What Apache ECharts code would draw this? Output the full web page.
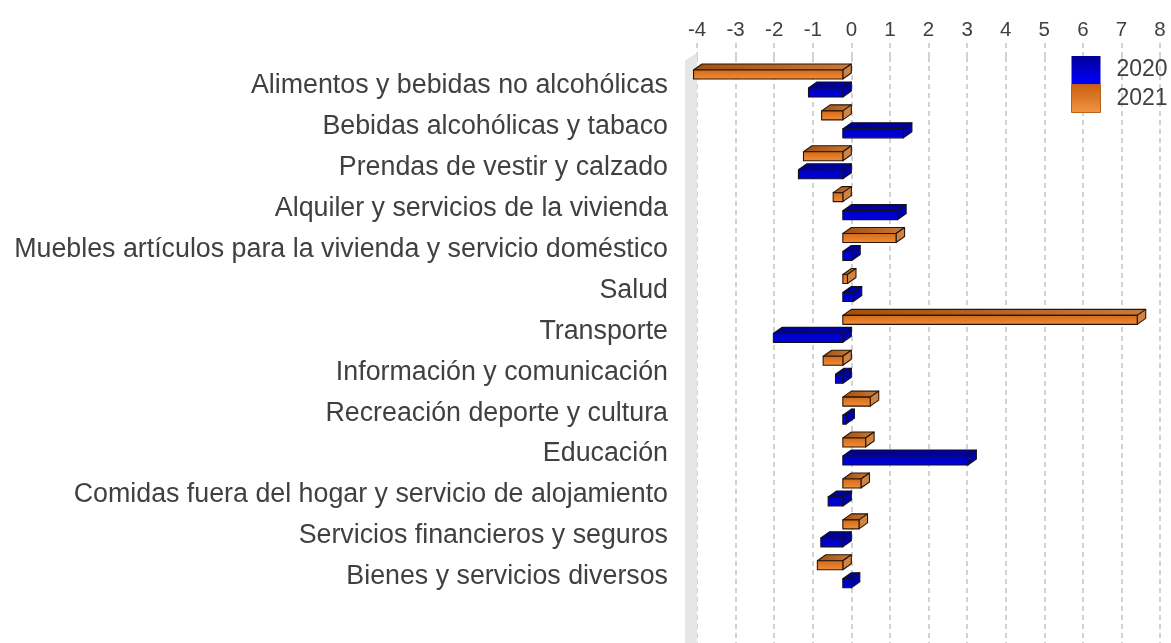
<!DOCTYPE html>
<html>
<head>
<meta charset="utf-8">
<script src="https://cdn.jsdelivr.net/npm/echarts@6/dist/echarts.min.js"></script>
<style>
  html, body { margin: 0; padding: 0; background: #ffffff; }
  #chart { width: 1171px; height: 643px; }
</style>
</head>
<body>
<div id="chart"></div>
<script>
// Variación por división de gasto (puntos porcentuales), 2020 y 2021
const categories = [
  'Alimentos y bebidas no alcohólicas',
  'Bebidas alcohólicas y tabaco',
  'Prendas de vestir y calzado',
  'Alquiler y servicios de la vivienda',
  'Muebles artículos para la vivienda y servicio doméstico',
  'Salud',
  'Transporte',
  'Información y comunicación',
  'Recreación deporte y cultura',
  'Educación',
  'Comidas fuera del hogar y servicio de alojamiento',
  'Servicios financieros y seguros',
  'Bienes y servicios diversos'
];
const values2021 = [-3.87, -0.55, -1.02, -0.25, 1.38, 0.12, 7.63, -0.51, 0.71, 0.59, 0.47, 0.42, -0.66];
const values2020 = [-0.89, 1.57, -1.15, 1.42, 0.23, 0.27, -1.80, -0.19, 0.08, 3.24, -0.38, -0.57, 0.22];
const xMin = -4, xMax = 8, xStep = 1;

const FONT = 'Liberation Sans, Arial, sans-serif';
const TEXT = '#404040';
const GRID_COLOR = '#c4c4c4';

// depth of the pseudo-3D extrusion (px)
const DX = 8.5, DY = 6;

const palette = {
  '2020': {
    front: { type: 'linear', x: 0, y: 0, x2: 0, y2: 1, colorStops: [{ offset: 0, color: '#0000c2' }, { offset: 1, color: '#0000de' }] },
    top:   { type: 'linear', x: 0, y: 0, x2: 1, y2: 0, colorStops: [{ offset: 0, color: '#00008e' }, { offset: 1, color: '#0000a8' }] },
    side: '#0000b0',
    stroke: '#101020',
    legend: { type: 'linear', x: 0, y: 0, x2: 0, y2: 1, colorStops: [{ offset: 0, color: '#000096' }, { offset: 1, color: '#0000ff' }] },
    legendBorder: '#0000a0'
  },
  '2021': {
    front: { type: 'linear', x: 0, y: 0, x2: 0, y2: 1, colorStops: [{ offset: 0, color: '#d16a18' }, { offset: 1, color: '#f28d38' }] },
    top:   { type: 'linear', x: 0, y: 0, x2: 1, y2: 0, colorStops: [{ offset: 0, color: '#a0500e' }, { offset: 1, color: '#c87a3c' }] },
    side: '#cf8444',
    stroke: '#2a1608',
    legend: { type: 'linear', x: 0, y: 0, x2: 0, y2: 1, colorStops: [{ offset: 0, color: '#c95e10' }, { offset: 1, color: '#f29545' }] },
    legendBorder: '#b8621e'
  }
};

// 2021 sits in the upper half of each category band, 2020 in the lower half
function barRenderer(seriesName, topFrac) {
  const pal = palette[seriesName];
  return function (params, api) {
    const v = api.value(0), idx = api.value(1);
    const band = api.size([0, 1])[1];
    const pZero = api.coord([0, idx]);
    const pVal = api.coord([v, idx]);
    const h = band * 0.22;
    const yt = pZero[1] + band * topFrac;
    const xl = Math.min(pZero[0], pVal[0]);
    const xr = Math.max(pZero[0], pVal[0]);
    const w = xr - xl;
    const lineStyle = { stroke: pal.stroke, lineWidth: 1.1, lineJoin: 'round' };
    return {
      type: 'group',
      children: [
        {
          type: 'polygon',
          shape: { points: [[xl - DX, yt + DY], [xl, yt], [xr, yt], [xr - DX, yt + DY]] },
          style: Object.assign({ fill: pal.top }, lineStyle)
        },
        {
          type: 'polygon',
          shape: { points: [[xr - DX, yt + DY], [xr, yt], [xr, yt + h], [xr - DX, yt + h + DY]] },
          style: Object.assign({ fill: pal.side }, lineStyle)
        },
        {
          type: 'rect',
          shape: { x: xl - DX, y: yt + DY, width: w, height: h },
          style: Object.assign({ fill: pal.front }, lineStyle)
        }
      ]
    };
  };
}

// left side wall of the 3D plot box
function wallRenderer(params, api) {
  const cs = params.coordSys;
  const xb = api.coord([xMin, 0])[0];
  const bottom = cs.y + cs.height + 20;
  return {
    type: 'polygon',
    silent: true,
    shape: { points: [[xb - 12, cs.y + 3.7], [xb, cs.y - 4.3], [xb, bottom], [xb - 12, bottom]] },
    style: { fill: '#e6e6e6' }
  };
}

const chart = echarts.init(document.getElementById('chart'), null, { renderer: 'canvas' });

const option = {
  animation: false,
  backgroundColor: '#ffffff',
  textStyle: { fontFamily: FONT },
  grid: { left: 697, right: 11, top: 57, height: 613.5, containLabel: false, outerBoundsMode: 'none' },
  legend: {
    orient: 'vertical',
    left: 1071,
    top: 56,
    itemWidth: 29,
    itemHeight: 28,
    itemGap: 0,
    icon: 'rect',
    padding: 0,
    selectedMode: false,
    textStyle: { fontFamily: FONT, fontSize: 23, color: TEXT, padding: [2, 0, 0, 11] },
    data: [
      { name: '2020', itemStyle: { color: palette['2020'].legend, borderColor: palette['2020'].legendBorder, borderWidth: 0 } },
      { name: '2021', itemStyle: { color: palette['2021'].legend, borderColor: palette['2021'].legendBorder, borderWidth: 1 } }
    ]
  },
  xAxis: {
    type: 'value',
    position: 'top',
    min: xMin,
    max: xMax,
    interval: xStep,
    axisLine: { show: false },
    axisTick: { show: true, length: 17, lineStyle: { color: GRID_COLOR, width: 1.5, type: [5, 4] } },
    axisLabel: { fontFamily: FONT, fontSize: 20.5, color: TEXT, margin: 16 },
    splitLine: { show: true, lineStyle: { color: GRID_COLOR, width: 1.5, type: [5, 4] } }
  },
  yAxis: {
    type: 'category',
    inverse: true,
    data: categories.concat(['', '']),
    axisLine: { show: false },
    axisTick: { show: false },
    splitLine: { show: false },
    axisLabel: {
      fontFamily: FONT,
      fontSize: 26.8,
      color: TEXT,
      margin: 29,
      verticalAlign: 'top',
      lineHeight: 17,
      interval: 0
    }
  },
  series: [
    {
      name: 'wall',
      type: 'custom',
      renderItem: wallRenderer,
      data: [[xMin, 0]],
      z: 1,
      silent: true
    },
    {
      name: '2021',
      type: 'custom',
      renderItem: barRenderer('2021', -0.33),
      itemStyle: { color: palette['2021'].legend },
      encode: { x: 0, y: 1 },
      data: values2021.map((v, i) => [v, i]),
      z: 3
    },
    {
      name: '2020',
      type: 'custom',
      renderItem: barRenderer('2020', 0.11),
      itemStyle: { color: palette['2020'].legend },
      encode: { x: 0, y: 1 },
      data: values2020.map((v, i) => [v, i]),
      z: 3
    }
  ]
};

chart.setOption(option);
</script>
</body>
</html>
